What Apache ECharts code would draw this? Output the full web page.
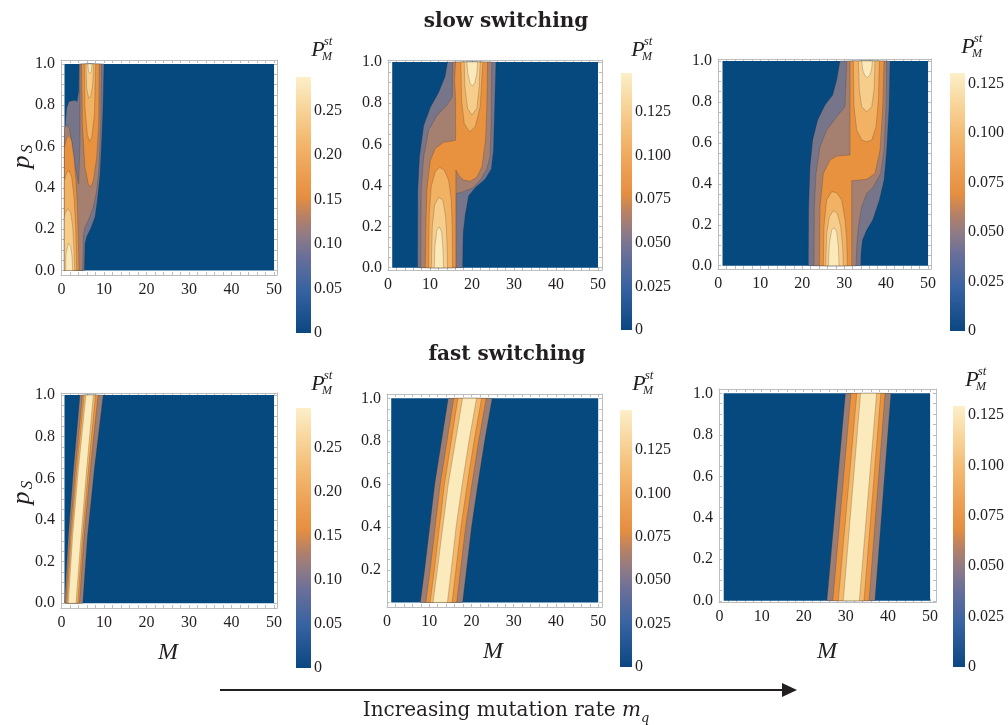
<!DOCTYPE html>
<html><head><meta charset="utf-8">
<script src="https://cdn.jsdelivr.net/npm/echarts@6/dist/echarts.min.js"></script>
<style>html,body{margin:0;padding:0;background:#fff}#c{width:1008px;height:725px}</style>
</head><body><div id="c"></div>
<script>
// ---------------- data ----------------
const mLabelTicks = [0, 10, 20, 30, 40, 50];
const mMinorTicks = [0,2,4,6,8,10,12,14,16,18,20,22,24,26,28,30,32,34,36,38,40,42,44,46,48,50];
const pLabelTicks = [0, 0.2, 0.4, 0.6, 0.8, 1.0];
const pMinorTicks = [0,0.05,0.1,0.15,0.2,0.25,0.3,0.35,0.4,0.45,0.5,0.55,0.6,0.65,0.7,0.75,0.8,0.85,0.9,0.95,1];
const barTicksWide = [0, 0.05, 0.10, 0.15, 0.20, 0.25];
const barTicksNarrow = [0, 0.025, 0.050, 0.075, 0.100, 0.125];
const barMax = [0.2875, 0.1472, 0.1302, 0.2958, 0.148, 0.1295];

const BG = '#05497f';
const slowBandColors = [BG, '#77758a', '#a58070', '#e8913f', '#f2b264', '#f7cd8c', '#fbe9b9'];
const fastBandColors = [BG, '#9c7e74', '#e9933f', '#f4b96c', '#fbeabb'];
const barStops = [[0,'#0b4782'],[0.17,'#3863a2'],[0.3,'#6a6f99'],[0.38,'#8f7b86'],[0.45,'#b48068'],[0.53,'#e58e40'],[0.62,'#ec9e51'],[0.75,'#f3b86f'],[0.88,'#f8d59b'],[1,'#fcefc9']];

// domains [Mmin, pmin, Mmax, pmax]
const domainA = [0.7, 0, 50, 1];
const domainB = [1, 0, 50, 1];
const domainC = [1, 0, 50, 1];
const domainD = [0.7, 0, 50, 1];
const domainE = [1, 0.05, 50, 1];
const domainF = [1, 0, 50, 1];

// slow switching: contour regions (superlevel sets), points are [M, pS]
const A1 = [[[0.67,0],[0.67,0.626],[0.9,0.706],[1.22,0.786],[1.76,0.818],[3.18,0.824],[3.65,0.818],[4.04,0.866],[4.12,1],[10.0,1],[9.76,0.786],[9.45,0.626],[9.06,0.466],[8.43,0.339],[7.88,0.259],[6.86,0.203],[5.92,0.163],[5.53,0.131],[5.37,0]]];
const A2 = [[[0.67,0],[0.67,0.687],[1.22,0.706],[1.84,0.687],[2.55,0.61],[3.25,0.498],[4.04,0.419],[4.35,0.626],[4.35,1],[9.45,1],[9.22,0.706],[8.82,0.498],[8.27,0.387],[7.49,0.307],[6.31,0.243],[5.53,0.211],[5.14,0.171],[4.98,0]]];
const A3 = [[[0.67,0],[0.67,0.594],[1.22,0.642],[1.84,0.653],[2.39,0.626],[2.94,0.546],[3.41,0.435],[3.73,0.307],[3.96,0.147],[4.12,0]],
            [[4.75,1],[4.9,0.706],[5.53,0.498],[6.31,0.419],[6.86,0.403],[7.49,0.435],[8.27,0.546],[8.75,0.706],[8.9,1]]];
const A4 = [[[0.67,0],[0.67,0.435],[1.22,0.474],[1.84,0.482],[2.39,0.45],[2.94,0.355],[3.33,0.211],[3.57,0]],
            [[5.37,1],[5.53,0.786],[6.08,0.658],[6.55,0.626],[7.1,0.642],[7.73,0.754],[8.04,1]]];
const A5 = [[[0.67,0],[0.67,0.25],[0.82,0.275],[1.45,0.299],[2.16,0.283],[2.63,0.211],[2.94,0.099],[3.1,0]],
            [[5.76,1],[5.92,0.882],[6.39,0.834],[6.86,0.842],[7.33,0.898],[7.57,1]]];
const A6 = [[[0.98,0],[1.06,0.083],[1.61,0.131],[2.16,0.118],[2.47,0.067],[2.63,0]],
            [[6.16,1],[6.39,0.962],[6.71,0.954],[7.02,0.965],[7.18,1]]];

const B1 = [[[7.05,0],[7.1,0.38],[7.5,0.54],[8.5,0.69],[10.1,0.78],[12.0,0.85],[13.6,0.93],[14.2,1],[25.7,1],[25.4,0.78],[25.1,0.57],[24.6,0.48],[23.1,0.43],[20.8,0.39],[19.2,0.35],[18.4,0.26],[17.9,0.17],[17.75,0]]];
const B2 = [[[7.8,0],[7.9,0.38],[8.5,0.54],[9.7,0.67],[11.65,0.74],[14.0,0.79],[15.3,0.83],[15.4,1],[24.7,1],[24.55,0.7],[24.3,0.54],[23.5,0.48],[22.1,0.43],[20.35,0.39],[18.0,0.37],[16.1,0.36],[16.1,0]]];
const B3 = [[[8.87,0],[9.03,0.22],[9.27,0.38],[10.06,0.52],[11.25,0.58],[13.23,0.61],[15.21,0.616],[16.09,0.62],[16.09,0.82],[15.85,0.91],[16.09,1],[23.69,1],[23.53,0.78],[23.22,0.62],[22.35,0.49],[21.16,0.44],[19.57,0.42],[17.99,0.426],[16.8,0.45],[16.16,0.475],[16.16,0]]];
const B4 = [[[9.67,0],[9.83,0.264],[10.3,0.394],[11.25,0.467],[12.28,0.488],[13.39,0.475],[14.42,0.426],[15.06,0.329],[15.29,0.199],[15.37,0]],
            [[17.35,1],[17.51,0.815],[18.15,0.702],[19.41,0.661],[20.76,0.686],[21.95,0.783],[22.58,1]]];
const B5 = [[[10.3,0],[10.54,0.199],[11.09,0.305],[12.04,0.342],[13.07,0.329],[13.71,0.248],[14.03,0.135],[14.18,0]],
            [[18.15,1],[18.3,0.88],[18.94,0.775],[19.97,0.742],[21.16,0.775],[21.71,0.88],[21.95,1]]];
const B6 = [[[11.01,0],[11.17,0.102],[11.65,0.183],[12.2,0.199],[12.76,0.175],[13.07,0.094],[13.23,0]],
            [[18.78,1],[19.02,0.945],[19.57,0.896],[20.13,0.883],[20.68,0.9],[21.16,0.945],[21.32,1]]];

const C1 = [[[21.46,0],[21.54,0.288],[21.86,0.484],[22.5,0.614],[23.69,0.712],[25.44,0.785],[27.27,0.834],[28.22,0.907],[29.01,1],[40.94,1],[40.7,0.777],[40.14,0.565],[39.51,0.419],[38.39,0.321],[36.8,0.223],[35.37,0.174],[34.34,0.125],[34.02,0.06],[33.94,0]]];
const C2 = [[[22.81,0],[22.89,0.288],[23.29,0.451],[24.25,0.581],[25.83,0.663],[28.22,0.728],[30.21,0.777],[30.6,1],[40.14,1],[39.98,0.777],[39.51,0.565],[38.71,0.451],[36.96,0.386],[35.37,0.353],[34.18,0.288],[33.39,0.191],[32.99,0.093],[32.83,0]]];
const C3 = [[[24.09,0],[24.25,0.288],[25.04,0.451],[26.63,0.516],[28.22,0.536],[31.4,0.541],[31.4,1],[39.51,1],[39.19,0.777],[38.55,0.565],[37.36,0.451],[35.37,0.422],[31.8,0.415],[31.8,0]]];
const C4 = [[[25.04,0],[25.2,0.191],[25.83,0.321],[27.03,0.362],[28.22,0.357],[29.41,0.321],[30.21,0.223],[30.6,0.125],[30.76,0]],
            [[32.19,1],[32.35,0.777],[32.99,0.663],[34.18,0.614],[35.37,0.606],[36.57,0.614],[37.6,0.679],[38.16,0.809],[38.39,1]]];
const C5 = [[[25.6,0],[25.83,0.158],[26.47,0.239],[27.42,0.269],[28.38,0.256],[29.17,0.191],[29.65,0.093],[29.81,0]],
            [[33.39,1],[33.62,0.858],[34.18,0.777],[35.37,0.752],[36.57,0.777],[37.12,0.858],[37.36,1]]];
const C6 = [[[26.23,0],[26.47,0.109],[27.03,0.174],[27.58,0.186],[28.22,0.166],[28.62,0.093],[28.78,0]],
            [[34.18,1],[34.42,0.956],[34.98,0.927],[35.53,0.92],[36.17,0.932],[36.57,0.964],[36.72,1]]];

// fast switching
const D1 = [[[0.7,0],[1.6,0.32],[2.8,0.64],[4.35,1],[9.8,1],[7.7,0.64],[6.1,0.32],[5.0,0]]];
const D2 = [[[1.0,0],[2.0,0.32],[3.25,0.64],[4.95,1],[8.6,1],[6.75,0.64],[5.3,0.32],[4.2,0]]];
const D3 = [[[1.3,0],[2.3,0.32],[3.6,0.64],[5.35,1],[8.0,1],[6.3,0.64],[4.95,0.32],[3.8,0]]];
const D4 = [[[1.6,0],[2.6,0.32],[3.95,0.64],[5.75,1],[7.5,1],[5.9,0.64],[4.6,0.32],[3.4,0]]];

const E1 = [[[7.9,0.05],[8.9,0.2],[10.1,0.4],[11.3,0.6],[12.9,0.8],[14.5,1],[24.9,1],[23.1,0.8],[21.5,0.6],[20.0,0.4],[18.8,0.2],[17.9,0.05]]];
const E2 = [[[9.2,0.05],[10.2,0.2],[11.4,0.4],[12.6,0.6],[14.2,0.8],[15.8,1],[23.5,1],[21.7,0.8],[20.1,0.6],[18.6,0.4],[17.4,0.2],[16.5,0.05]]];
const E3 = [[[10.2,0.05],[11.2,0.2],[12.4,0.4],[13.6,0.6],[15.2,0.8],[16.8,1],[22.4,1],[20.6,0.8],[19.0,0.6],[17.5,0.4],[16.3,0.2],[15.4,0.05]]];
const E4 = [[[10.9,0.05],[11.9,0.2],[13.2,0.4],[14.5,0.6],[16.2,0.8],[17.9,1],[21.2,1],[19.4,0.8],[17.8,0.6],[16.35,0.4],[15.2,0.2],[14.3,0.05]]];

const F1 = [[[25.5,0],[27.7,0.5],[29.9,1],[40.7,1],[38.8,0.5],[36.9,0]]];
const F2 = [[[26.9,0],[29.05,0.5],[31.2,1],[39.3,1],[37.4,0.5],[35.5,0]]];
const F3 = [[[28.2,0],[30.4,0.5],[32.6,1],[38.3,1],[36.3,0.5],[34.3,0]]];
const F4 = [[[29.4,0],[31.45,0.5],[33.5,1],[37.3,1],[35.25,0.5],[33.2,0]]];

// ---------------- layout ----------------
const panels = [
 {levels:[A1,A2,A3,A4,A5,A6], colors:slowBandColors, domain:domainA, barTicks:barTicksWide, dec:2,
  frame:[61,60,277,275], mAxis:[-0.12,50.7], pAxis:[-0.022,1.019], bar:[296,77,311,333], header:[318,50]},
 {levels:[B1,B2,B3,B4,B5,B6], colors:slowBandColors, domain:domainB, barTicks:barTicksNarrow, dec:3,
  frame:[388,60,602,270], mAxis:[0,50.95], pAxis:[-0.011,1.01], bar:[621,73,632,330], header:[638,50]},
 {levels:[C1,C2,C3,C4,C5,C6], colors:slowBandColors, domain:domainC, barTicks:barTicksNarrow, dec:3,
  frame:[718,59,931,269], mAxis:[-0.07,50.7], pAxis:[-0.016,1.01], bar:[950,73,965,331], header:[968,47]},
 {levels:[D1,D2,D3,D4], colors:fastBandColors, domain:domainD, barTicks:barTicksWide, dec:2,
  frame:[61,393,277,608], mAxis:[-0.12,50.7], pAxis:[-0.0226,1.0096], bar:[296,408,311,668], header:[318,384]},
 {levels:[E1,E2,E3,E4], colors:fastBandColors, domain:domainE, barTicks:barTicksNarrow, dec:3,
  frame:[387,394,602,607], mAxis:[0,50.9], pAxis:[0.029,1.02], bar:[620,410,632,667], header:[639,384]},
 {levels:[F1,F2,F3,F4], colors:fastBandColors, domain:domainF, barTicks:barTicksNarrow, dec:3,
  frame:[719,389,936,602], mAxis:[-0.12,51.4], pAxis:[-0.006,1.021], bar:[953,406,965,667], header:[972,380]},
];

const TICKFONT = '"Liberation Serif","Times New Roman",serif';
const FRAME = '#bdbdbd';
const TXT = '#231f20';

const grid = [], xAxis = [], yAxis = [], series = [], graphic = [];
const inRange = (arr, r) => arr.filter(v => v >= r[0] - 1e-9 && v <= r[1] + 1e-9);

panels.forEach((P, k) => {
  const [x0, y0, x1, y1] = P.frame;
  grid.push({left:x0, top:y0, width:x1-x0, height:y1-y0, containLabel:false});
  const axBase = (pos, isX, showLab) => {
    const r = isX ? P.mAxis : P.pAxis;
    const labs = inRange(isX ? mLabelTicks : pLabelTicks, r);
    const mins = inRange(isX ? mMinorTicks : pMinorTicks, r);
    return {
      type:'value', gridIndex:k, position:pos, min:r[0], max:r[1],
      axisLine:{show:true, onZero:false, lineStyle:{color:FRAME, width:1}},
      axisTick:{show:true, inside:true, length:3, customValues:mins, lineStyle:{color:FRAME, width:1}},
      axisLabel:{show:showLab, customValues:labs, margin: isX ? 7 : 6, color:TXT,
        fontFamily:TICKFONT, fontSize:16,
        formatter: v => isX ? String(Math.round(v)) : Number(v).toFixed(1)},
      splitLine:{show:false}
    };
  };
  xAxis.push(axBase('bottom', true, true));
  xAxis.push(axBase('top', true, false));
  yAxis.push(axBase('left', false, true));
  yAxis.push(axBase('right', false, false));

  const d = P.domain;
  const items = [{level:0, poly:[[d[0],d[1]],[d[2],d[1]],[d[2],d[3]],[d[0],d[3]]]}];
  P.levels.forEach((polys, li) => polys.forEach(poly => items.push({level:li+1, poly})));
  series.push({
    type:'custom', xAxisIndex:2*k, yAxisIndex:2*k, silent:true, animation:false, clip:true,
    data: items.map(it => it.poly[0].slice()),
    renderItem: (params, api) => {
      const it = items[params.dataIndex];
      return {type:'polygon', z2: it.level,
        shape:{points: it.poly.map(pt => api.coord(pt))},
        style:{fill:P.colors[it.level],
               stroke: it.level ? 'rgba(45,40,40,0.38)' : null,
               lineWidth: it.level ? 0.6 : 0}};
    }
  });
});

// colour bars
panels.forEach((P, k) => {
  const [bx0, by0, bx1, by1] = P.bar;
  const gi = 6 + k;
  grid.push({left:bx0, top:by0, width:bx1-bx0, height:by1-by0});
  xAxis.push({type:'category', gridIndex:gi, data:['P'], show:false});
  yAxis.push({type:'value', gridIndex:gi, position:'right', min:0, max:barMax[k],
    axisLine:{show:false}, axisTick:{show:false}, splitLine:{show:false},
    axisLabel:{show:true, customValues:P.barTicks, margin:3, color:TXT, fontFamily:TICKFONT, fontSize:16,
      formatter: v => v === 0 ? '0' : Number(v).toFixed(P.dec)}});
  series.push({type:'bar', xAxisIndex:12+k, yAxisIndex:12+k, data:[barMax[k]], barWidth:'100%',
    silent:true, animation:false,
    itemStyle:{color:{type:'linear', x:0, y:1, x2:0, y2:0,
      colorStops: barStops.map(s => ({offset:s[0], color:s[1]}))}}});
  const [hx, hy] = P.header;
  graphic.push({type:'group', x:hx, y:hy, silent:true, children:[
    {type:'text', x:0, y:0, style:{text:'P', font:'italic 22px "Liberation Serif"', fill:TXT, align:'center', verticalAlign:'middle'}},
    {type:'text', x:10, y:-8, style:{text:'st', font:'italic 13px "Liberation Serif"', fill:TXT, align:'center', verticalAlign:'middle'}},
    {type:'text', x:9, y:7, style:{text:'M', font:'italic 12px "Liberation Serif"', fill:TXT, align:'center', verticalAlign:'middle'}}
  ]});
});

// titles
graphic.push({type:'text', x:506, y:22, silent:true, style:{text:'slow switching', font:'bold 20px "DejaVu Serif"', fill:TXT, align:'center', verticalAlign:'middle'}});
graphic.push({type:'text', x:507, y:355, silent:true, style:{text:'fast switching', font:'bold 20px "DejaVu Serif"', fill:TXT, align:'center', verticalAlign:'middle'}});

// y axis names p_S
[[22,157],[22,493]].forEach(([x,y]) => {
  graphic.push({type:'group', x, y, rotation:Math.PI/2, silent:true, children:[
    {type:'text', x:-5, y:0, style:{text:'p', font:'italic 26px "Liberation Serif"', fill:TXT, align:'center', verticalAlign:'middle'}},
    {type:'text', x:8, y:6, style:{text:'S', font:'italic 17px "Liberation Serif"', fill:TXT, align:'center', verticalAlign:'middle'}}
  ]});
});
// x axis names M
[[168,653],[493,652],[827,652]].forEach(([x,y]) => {
  graphic.push({type:'text', x, y, silent:true, style:{text:'M', font:'italic 24px "Liberation Serif"', fill:TXT, align:'center', verticalAlign:'middle'}});
});

// arrow + caption
graphic.push({type:'line', silent:true, shape:{x1:220, y1:690, x2:784, y2:690}, style:{stroke:TXT, lineWidth:2}});
graphic.push({type:'polygon', silent:true, shape:{points:[[782,683],[797,690],[782,697]]}, style:{fill:TXT}});
(function(){
  const c = document.createElement('canvas').getContext('2d');
  const f1 = '20px "DejaVu Serif"', f2 = 'italic 20px "DejaVu Serif"', f3 = 'italic 13px "DejaVu Serif"';
  const s1 = 'Increasing mutation rate ';
  c.font = f1; const w1 = c.measureText(s1).width;
  c.font = f2; const w2 = c.measureText('m').width;
  c.font = f3; const w3 = c.measureText('q').width;
  const x0 = 506 - (w1 + w2 + w3) / 2, y = 711;
  graphic.push({type:'text', x:x0, y, silent:true, style:{text:s1, font:f1, fill:TXT, align:'left', verticalAlign:'middle'}});
  graphic.push({type:'text', x:x0+w1, y, silent:true, style:{text:'m', font:f2, fill:TXT, align:'left', verticalAlign:'middle'}});
  graphic.push({type:'text', x:x0+w1+w2, y:y+8, silent:true, style:{text:'q', font:f3, fill:TXT, align:'left', verticalAlign:'middle'}});
})();

const chart = echarts.init(document.getElementById('c'), null, {renderer:'canvas', width:1008, height:725});
chart.setOption({backgroundColor:'#ffffff', animation:false, grid, xAxis, yAxis, series, graphic});
</script></body></html>
